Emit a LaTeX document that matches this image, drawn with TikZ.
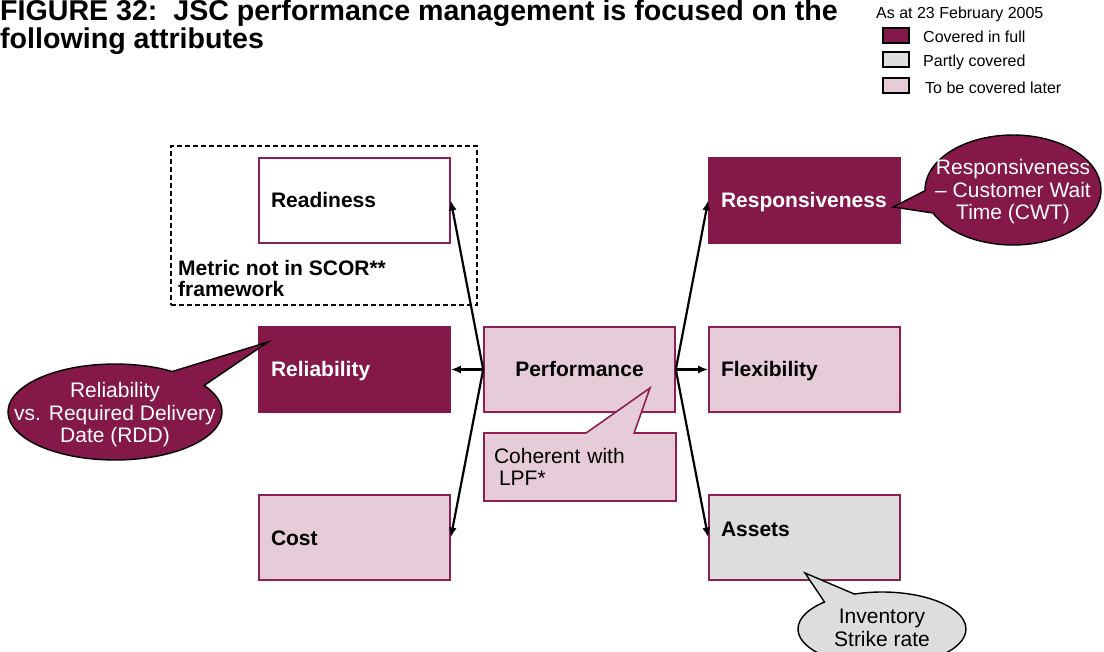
\documentclass[tikz,border=0pt]{standalone}
\usepackage{fontspec}
\setmainfont{Liberation Sans}
\usetikzlibrary{shapes.callouts,arrows.meta,positioning}
\definecolor{jscdark}{RGB}{132,24,72}
\definecolor{jscline}{RGB}{140,32,82}
\definecolor{jscpink}{RGB}{230,204,216}
\definecolor{jscgrey}{RGB}{221,221,221}

\begin{document}
\begin{tikzpicture}[x=1pt,y=-1pt,
    attr/.style={rectangle, draw=jscline, line width=1.6pt, minimum width=191pt, minimum height=85pt,
      text width=167pt, inner xsep=12pt, align=left, text height=15pt, text depth=0pt,
      font=\fontsize{21}{23}\selectfont\bfseries},
    full/.style={attr, fill=jscdark, draw=jscdark, text=white},
    later/.style={attr, fill=jscpink},
    partly/.style={attr, fill=jscgrey},
    bubble/.style={ellipse callout, draw=black, line width=1.4pt, callout pointer arc=24, inner sep=0pt},
    bubtext/.style={align=center, font=\fontsize{21}{22.5}\selectfont},
    key/.style={rectangle, draw=black, line width=2pt, minimum width=26pt, minimum height=15pt, inner sep=0pt},
    keytext/.style={anchor=west, inner sep=0pt, font=\fontsize{16}{18}\selectfont},
    link/.style={-{Latex[length=10pt,width=8pt]}, line width=2.2pt}]
    \clip (0,0) rectangle (1104,652);

    \node[anchor=north west, inner sep=0pt, align=left, font=\fontsize{28.6}{23.5}\selectfont\bfseries] (title) at (0,0)
      {FIGURE 32:\ \ JSC performance management is focused on the\\following attributes};

    \node[anchor=base west, inner sep=0pt, font=\fontsize{16}{18}\selectfont] (asat) at (876,19) {As at 23 February 2005};
    \node[key, fill=jscdark] (kfull) at (896,35.5) {};
    \node[key, fill=jscgrey] (kpartly) at (896,60) {};
    \node[key, fill=jscpink] (klater) at (896,86) {};
    \node[keytext] (tfull) at (923,37) {Covered in full};
    \node[keytext] (tpartly) at (923,62) {Partly covered};
    \node[keytext] (tlater) at (925,88) {To be covered later};

    \node[draw, dashed, dash pattern=on 5pt off 3pt, line width=1.2pt, minimum width=306pt, minimum height=159pt] (scor) at (324,225.5) {};
    \node[attr, fill=white] (readiness) at (354.5,200.5) {Readiness};
    \node[anchor=north west, inner sep=0pt, align=left, font=\fontsize{21}{21}\selectfont\bfseries] (scortext) at (178,260)
      {Metric not in SCOR**\\framework};

    \node[full] (reliability) at (354.5,369.5) {Reliability};
    \node[later] (cost) at (354.5,537.5) {Cost};
    \node[later, align=center] (perf) at (579.5,369.5) {Performance};
    \node[full] (responsiveness) at (804.5,200.5) {Responsiveness};
    \node[later] (flexibility) at (804.5,369.5) {Flexibility};
    \node[partly, text depth=17pt] (assets) at (804.5,537.5) {Assets};

    \draw[link] (perf.west) -- (readiness.east);
    \draw[link] (perf.west) -- (reliability.east);
    \draw[link] (perf.west) -- (cost.east);
    \draw[link] (perf.east) -- (responsiveness.west);
    \draw[link] (perf.east) -- (flexibility.west);
    \draw[link] (perf.east) -- (assets.west);

    \coordinate (lpftip) at (650,388);
    \node[rectangle callout, draw=jscline, line width=1.6pt, fill=jscpink, minimum width=192pt, minimum height=68pt,
      text width=172pt, inner xsep=10pt, align=left, callout absolute pointer=(lpftip), callout pointer width=48pt,
      font=\fontsize{21}{22}\selectfont] (lpf) at (580,467) {Coherent with\\\hspace{5pt}LPF*};

    \coordinate (cwttip) at (893,207);
    \node[bubble, fill=jscdark, minimum width=176pt, minimum height=110pt, callout absolute pointer=(cwttip)] (cwt) at (1013,190) {};
    \node[bubtext, text=white] (cwttext) at (1013,192) {Responsiveness\\– Customer Wait\\Time (CWT)};

    \coordinate (rddtip) at (268,342);
    \node[bubble, fill=jscdark, minimum width=214pt, minimum height=96pt, callout absolute pointer=(rddtip)] (rdd) at (115,412) {};
    \node[bubtext, text=white] (rddtext) at (115,415) {Reliability\\vs. Required Delivery\\Date (RDD)};

    \coordinate (invtip) at (805,573);
    \node[bubble, fill=jscgrey, minimum width=168pt, minimum height=74pt, callout absolute pointer=(invtip)] (inv) at (882,629) {};
    \node[bubtext] (invtext) at (882,628) {Inventory\\Strike rate};

    \node[anchor=base west, inner sep=0pt, font=\fontsize{17.5}{19}\selectfont] (footnote) at (63,665)
      {* MoD Logistics Process Framework (LPF)};
\end{tikzpicture}
\end{document}
